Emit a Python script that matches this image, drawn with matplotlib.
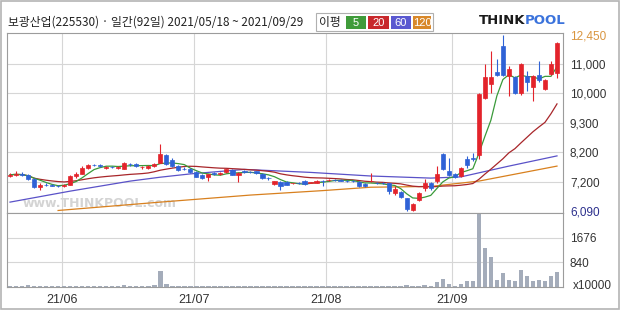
import numpy as np
import pandas as pd
import matplotlib
matplotlib.use("Agg")
import matplotlib.pyplot as plt
from matplotlib.patches import Rectangle

# 보광산업 daily candles 2021/05/18 ~ 2021/09/29 (92 trading days)
opens = [7400, 7440, 7480, 7430, 7300, 7000, 7100, 7080, 7060, 7050,
         7100, 7400, 7480, 7680, 7770, 7780, 7680, 7700, 7680, 7650,
         7800, 7800, 7700, 7680, 7720, 7850, 8100, 7950, 7730, 7650,
         7630, 7540, 7440, 7360, 7500, 7480, 7520, 7600, 7430, 7560,
         7530, 7560, 7470, 7330, 7120, 7200, 7200, 7150, 7160, 7250,
         7170, 7180, 7250, 7270, 7280, 7260, 7250, 7240, 7200, 7120,
         7230, 7170, 7160, 7160, 6780, 6820, 6590, 6130, 6510, 6970,
         7160, 7230, 8130, 7570, 7470, 7400, 7970, 8000, 8100, 9880,
         10310, 10720, 11900, 10590, 10550, 10000, 10590, 10210, 10620, 10140,
         10660, 10690]
highs = [7500, 7560, 7520, 7460, 7320, 7150, 7160, 7130, 7100, 7120,
         7430, 7520, 7720, 7800, 7800, 7800, 7740, 7720, 7730, 7860,
         7830, 7830, 7740, 7760, 7820, 8500, 8130, 8000, 7760, 7700,
         7660, 7560, 7460, 7480, 7530, 7520, 7650, 7620, 7520, 7590,
         7560, 7580, 7490, 7360, 7250, 7220, 7230, 7180, 7190, 7280,
         7210, 7270, 7280, 7300, 7310, 7290, 7280, 7260, 7220, 7150,
         7500, 7200, 7190, 7180, 7040, 6860, 6600, 6400, 6800, 7300,
         7200, 7730, 8170, 8000, 7500, 7700, 8070, 8170, 9990, 11000,
         11650, 11250, 12450, 10930, 10600, 11050, 10760, 10620, 11150, 10500,
         11150, 12100]
lows = [7360, 7400, 7400, 7280, 6960, 6880, 7030, 7030, 7020, 7000,
        7080, 7350, 7460, 7650, 7720, 7700, 7650, 7660, 7640, 7620,
        7740, 7700, 7620, 7650, 7700, 7830, 7780, 7700, 7560, 7600,
        7500, 7360, 7300, 7220, 7440, 7450, 7500, 7430, 7200, 7500,
        7490, 7480, 7290, 7280, 7100, 6890, 7080, 7120, 7130, 7100,
        7150, 7160, 7040, 7230, 7240, 7220, 7210, 7190, 7020, 7020,
        7200, 7130, 7120, 6740, 6700, 6600, 6090, 6090, 6460, 6860,
        6900, 7150, 7600, 7400, 7340, 7380, 7670, 7900, 7970, 9850,
        10000, 10600, 10580, 9930, 9980, 9950, 10070, 9810, 10380, 10100,
        10620, 10520]
closes = [7440, 7470, 7430, 7300, 7000, 7100, 7080, 7060, 7050, 7090,
          7400, 7480, 7680, 7760, 7760, 7720, 7710, 7690, 7700, 7820,
          7790, 7720, 7700, 7720, 7800, 8130, 7800, 7730, 7600, 7640,
          7540, 7380, 7330, 7460, 7470, 7490, 7620, 7450, 7500, 7530,
          7520, 7500, 7320, 7320, 7220, 7040, 7100, 7170, 7150, 7120,
          7200, 7250, 7240, 7280, 7270, 7250, 7240, 7230, 7050, 7050,
          7240, 7160, 7150, 6860, 6930, 6630, 6170, 6360, 6780, 7160,
          6970, 7470, 7630, 7430, 7370, 7670, 7770, 7970, 9980, 10550,
          10550, 10620, 10620, 10830, 10000, 11000, 10380, 10590, 10450, 10450,
          11000, 12050]
# volume, x10000 shares
volumes = [30, 25, 30, 60, 35, 30, 25, 20, 25, 30,
           50, 35, 45, 45, 35, 30, 25, 25, 30, 70,
           35, 30, 25, 30, 80, 540, 90, 50, 35, 30,
           30, 25, 30, 35, 25, 20, 30, 25, 30, 20,
           20, 20, 25, 20, 30, 35, 25, 20, 20, 25,
           20, 25, 30, 20, 20, 20, 20, 20, 30, 30,
           35, 25, 20, 40, 35, 40, 60, 50, 45, 60,
           50, 170, 270, 90, 40, 100, 200, 200, 2480, 1330,
           1020, 240, 480, 240, 220, 580, 370, 220, 230, 190,
           370, 510]

# long moving averages (need history before the window)
ma60_day = [0, 10, 20, 25, 30, 39, 50, 60, 70, 75, 83, 91]
ma60_val = [6430, 6850, 7230, 7360, 7470, 7620, 7520, 7400, 7330, 7370, 7730, 8070]
ma120_day = [8, 25, 40, 52, 60, 70, 78, 91]
ma120_val = [6110, 6430, 6700, 6870, 7000, 7030, 7230, 7730]

month_first_day = [9, 31, 53, 74]
month_labels = ["21/06", "21/07", "21/08", "21/09"]
price_ticks = [6090, 7200, 8200, 9300, 10000, 11000, 12450]
grid_prices = [7200, 8200, 9300, 10000, 11000]
vol_ticks = [840, 1676]

RED = "#e3232b"
BLUE = "#2f62d6"
GRID = "#d6d6d6"
FRAME = "#9c9c9c"
KR = ["Noto Sans CJK KR", "DejaVu Sans"]
NUM = ["Liberation Sans", "DejaVu Sans"]

W, H = 620, 310


def fig_box(x0, y0, x1, y1):
    return [x0 / W, 1 - y1 / H, (x1 - x0) / W, (y1 - y0) / H]


# the price axis on these charts is not linear: the labelled levels sit
# on evenly spaced rows, so map price -> row by piecewise interpolation
scale_p = np.array([6013, 6090, 7200, 8200, 9300, 10000, 11000, 12450, 12550], float)
scale_r = -np.array([212, 210, 181, 151, 122, 92, 63, 34, 32], float)


def fwd(v):
    return np.interp(v, scale_p, scale_r)


def inv(v):
    return np.interp(v, scale_r, scale_p)


fig = plt.figure(figsize=(6.2, 3.1), dpi=100)
ax = fig.add_axes(fig_box(7, 33, 563, 213))
axv = fig.add_axes(fig_box(7, 213, 563, 287), sharex=ax)

x = np.arange(len(closes))
o = np.array(opens)
h = np.array(highs)
l = np.array(lows)
c = np.array(closes)
colors = np.where(c >= o, RED, BLUE)

ax.set_yscale("function", functions=(fwd, inv))
ax.set_ylim(6013, 12550)
ax.set_xlim(-0.5, 92.0)

for p in grid_prices:
    ax.axhline(p, color=GRID, lw=0.8, zorder=0)
for m in month_first_day:
    ax.axvline(m - 0.4, color=GRID, lw=0.8, zorder=0)
    axv.axvline(m - 0.4, color=GRID, lw=0.8, zorder=0)
for v in vol_ticks:
    axv.axhline(v, color=GRID, lw=0.8, zorder=0)

s = pd.Series(closes)
ma5 = s.rolling(5, min_periods=1).mean()
ma20 = s.rolling(20, min_periods=1).mean()
ax.plot(ma120_day, ma120_val, color="#d8801e", lw=0.9, zorder=2)
ax.plot(ma60_day, ma60_val, color="#5a52c8", lw=0.9, zorder=2)
ax.plot(x, ma20, color="#a8262a", lw=0.9, zorder=2)
ax.plot(x, ma5, color="#3a9a3a", lw=0.9, zorder=2)

ax.vlines(x, l, h, colors=colors, lw=0.8, zorder=3)
ax.bar(x, np.abs(c - o), bottom=np.minimum(o, c), width=0.7,
       color=colors, edgecolor=colors, lw=0.5, zorder=4)

ax.text(0.028, 0.035, "www.THINKPOOL.com", transform=ax.transAxes,
        fontsize=9, fontweight="bold", color="#d4d4d4", zorder=1)

ax.yaxis.tick_right()
ax.set_yticks(price_ticks)
ax.set_yticklabels([f"{p:,}" for p in price_ticks])
ax.tick_params(axis="y", length=0, pad=5, labelsize=8.5, labelcolor="#333333")
ax.tick_params(axis="x", length=0, labelbottom=False)
for t in ax.get_yticklabels():
    t.set_fontfamily(NUM)
ax.get_yticklabels()[0].set_color("#2b2f8c")
ax.get_yticklabels()[-1].set_color("#d9953f")

axv.bar(x, volumes, width=0.75, color="#a4acba", zorder=2)
axv.set_ylim(0, 2520)
axv.yaxis.tick_right()
axv.set_yticks(vol_ticks)
axv.set_yticklabels([str(v) for v in vol_ticks])
axv.tick_params(axis="y", length=0, pad=5, labelsize=8.5, labelcolor="#333333")
axv.set_xticks([m - 0.4 for m in month_first_day])
axv.set_xticklabels(month_labels)
axv.tick_params(axis="x", length=0, pad=5, labelsize=9, labelcolor="#333333")
for t in axv.get_yticklabels() + axv.get_xticklabels():
    t.set_fontfamily(NUM)
fig.text(573 / W, 1 - 286 / H, "x10000", fontsize=8.5, family=NUM,
         color="#333333", va="center")

for a in (ax, axv):
    for sp in a.spines.values():
        sp.set_color(FRAME)
        sp.set_linewidth(0.8)

# header
fig.text(8 / W, 1 - 22 / H, "보광산업(225530) · 일간(92일) 2021/05/18 ~ 2021/09/29",
         fontsize=8.5, family=KR, color="#222222", va="center")
fig.add_artist(Rectangle((316 / W, 1 - 31 / H), 117 / W, 18 / H,
                         transform=fig.transFigure, facecolor="white",
                         edgecolor="#b0b0b0", lw=0.8))
fig.text(330 / W, 1 - 22.5 / H, "이평", fontsize=8.5, family=KR,
         color="#222222", ha="center", va="center")
chips = [("5", "#3f9b3a", 346, 366), ("20", "#c8282c", 368, 389),
         ("60", "#5a58d0", 391, 411), ("120", "#d8882a", 413, 431)]
for label, col, x0, x1 in chips:
    fig.add_artist(Rectangle((x0 / W, 1 - 29 / H), (x1 - x0) / W, 13 / H,
                             transform=fig.transFigure, facecolor=col, lw=0))
    fig.text((x0 + x1) / 2 / W, 1 - 22.5 / H, label, fontsize=8, family=NUM,
             color="white", ha="center", va="center")
fig.text(525 / W, 1 - 20 / H, "THINK", fontsize=9.5, fontweight="bold",
         family=["DejaVu Sans"], color="#1a1a1a", ha="right", va="center")
fig.text(525 / W, 1 - 20 / H, "POOL", fontsize=9.5, fontweight="bold",
         family=["DejaVu Sans"], color="#3b73dc", ha="left", va="center")

fig.add_artist(Rectangle((0.0015, 0.003), 0.997, 0.994, transform=fig.transFigure,
                         facecolor="none", edgecolor="#b4b4b4", lw=1.2))

fig.savefig("out.png", dpi=100)
